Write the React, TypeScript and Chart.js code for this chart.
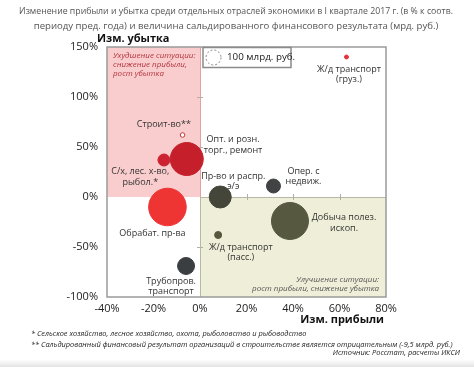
import React, { useEffect, useRef } from 'react';
import { Chart, registerables } from 'chart.js';

Chart.register(...registerables);

const sectors = [
  'Ж/д транспорт (груз.)',
  'Строит-во**',
  'Опт. и розн. торг., ремонт',
  'С/х, лес. х-во, рыбол.*',
  'Обрабат. пр-ва',
  'Трубопров. транспорт',
  'Пр-во и распр. э/э',
  'Ж/д транспорт (пасс.)',
  'Опер. с недвиж.',
  'Добыча полез. ископ.',
];
const profitChange = [63, -7.5, -5.7, -15.5, -14, -6, 8.7, 7.8, 31.6, 38.7];
const lossChange = [140, 62, 38, 37, -10, -69, 0, -38, 11, -24];
const balanceBn = [7, -9.5, 484, 64, 628, 128, 215, 22, 87, 608];
const xTicks = [-40, -20, 0, 20, 40, 60, 80];
const yTicks = [-100, -50, 0, 50, 100, 150];
const legendBn = 100;

const titleLines = [
  'Изменение прибыли и убытка среди отдельных отраслей экономики в I квартале 2017 г. (в % к соотв.',
  'периоду пред. года) и величина сальдированного финансового результата (мрд. руб.)',
];
const footLines = [
  '* Сельское хозяйство, лесное хозяйство, охота, рыболовство и рыбоводство',
  '** Сальдированный финансовый результат организаций в строительстве является отрицательным (-9,5 млрд. руб.)',
];
const sourceLine = 'Источник: Росстат, расчеты ИКСИ';

// styles / label layout (pixels)
const fills = ['#e2323c', '#ffffff', '#c41f2a', '#cc2232', '#ef3434', '#3b3e41', '#44463a', '#56583e', '#414345', '#56583f'];
const borders = ['#e2323c', '#c03a3a', '#c41f2a', '#cc2232', '#ef3434', '#3b3e41', '#44463a', '#56583e', '#414345', '#56583f'];
const labelLines = [
  ['Ж/д транспорт', '(груз.)'],
  ['Строит-во**'],
  ['Опт. и розн.', 'торг., ремонт'],
  ['С/х, лес. х-во,', 'рыбол.*'],
  ['Обрабат. пр-ва'],
  ['Трубопров.', 'транспорт'],
  ['Пр-во и распр.', 'э/э'],
  ['Ж/д транспорт', '(пасс.)'],
  ['Опер. с', 'недвиж.'],
  ['Добыча полез.', 'ископ.'],
];
const labelOffsets = [
  [2.5, 12.3], [-18.7, -11], [46.3, -19.3], [-23.7, 11.7], [-15, 26.6],
  [-15, 15], [13, -21], [22.7, 12.4], [30, -15], [54, -3.3],
];

const BASE_R = 7.5;
const radiusOf = (v: number) => BASE_R * Math.sqrt(Math.abs(v) / legendBn);
const FONT = '"Open Sans", "Noto Sans", sans-serif';

const overlay = {
  id: 'overlay',
  beforeDatasetsDraw(chart: any) {
    const { ctx, scales } = chart;
    const x = scales.x, y = scales.y;
    ctx.save();
    // pink region
    const px0 = x.getPixelForValue(-40), px1 = x.getPixelForValue(0);
    const py0 = y.getPixelForValue(150), py1 = y.getPixelForValue(0);
    ctx.fillStyle = '#f9cdcd';
    ctx.fillRect(px0, py0, px1 - px0, py1 - py0);
    ctx.strokeStyle = '#e6a0a0';
    ctx.lineWidth = 1;
    ctx.beginPath();
    ctx.moveTo(px1 + 0.5, py0);
    ctx.lineTo(px1 + 0.5, py1);
    ctx.stroke();
    // olive region
    const ox1 = x.getPixelForValue(80), oy1 = y.getPixelForValue(-100);
    ctx.fillStyle = '#efefd9';
    ctx.fillRect(px1, py1, ox1 - px1, oy1 - py1);
    ctx.strokeStyle = '#b8b8a8';
    ctx.beginPath();
    ctx.moveTo(px1, py1 + 0.5);
    ctx.lineTo(ox1, py1 + 0.5);
    ctx.moveTo(px1 + 0.5, py1);
    ctx.lineTo(px1 + 0.5, oy1);
    ctx.stroke();
    // small axis ticks at zero lines
    ctx.strokeStyle = '#b0b0a8';
    ctx.beginPath();
    xTicks.forEach((t) => {
      if (t === 0 || t === -40 || t === 80) return;
      const xx = Math.round(x.getPixelForValue(t)) + 0.5;
      ctx.moveTo(xx, py1 - 3);
      ctx.lineTo(xx, py1 + 3);
    });
    yTicks.forEach((t) => {
      if (t === 0 || t === 150 || t === -100) return;
      const yy = Math.round(y.getPixelForValue(t)) + 0.5;
      ctx.moveTo(px1 - 3, yy);
      ctx.lineTo(px1 + 3, yy);
    });
    ctx.stroke();
    // region captions
    ctx.font = `italic 8px ${FONT}`;
    ctx.fillStyle = '#b2343f';
    ctx.textAlign = 'left';
    ctx.textBaseline = 'middle';
    ['Ухудшение ситуации:', 'снижение прибыли,', 'рост убытка'].forEach((s, i) => {
      ctx.fillText(s, px0 + 6, py0 + 9 + i * 8.8);
    });
    ctx.fillStyle = '#555555';
    ctx.textAlign = 'right';
    ['Улучшение ситуации:', 'рост прибыли, снижение убытка'].forEach((s, i) => {
      ctx.fillText(s, ox1 - 7, oy1 - 17 + i * 9);
    });
    ctx.restore();
  },
  afterDatasetsDraw(chart: any) {
    const { ctx, chartArea: a } = chart;
    const meta = chart.getDatasetMeta(0);
    ctx.save();
    // plot border
    ctx.strokeStyle = '#9a9a9a';
    ctx.lineWidth = 1.5;
    ctx.strokeRect(a.left, a.top, a.right - a.left, a.bottom - a.top);
    // bubble labels
    ctx.font = `9px ${FONT}`;
    ctx.fillStyle = '#333333';
    ctx.textAlign = 'center';
    ctx.textBaseline = 'middle';
    meta.data.forEach((el: any, i: number) => {
      const [dx, dy] = labelOffsets[i];
      labelLines[i].forEach((s, j) => {
        ctx.fillText(s, el.x + dx, el.y + dy + j * 10.5);
      });
    });
    // legend box
    const lx = 203, ly = 47.5, lw = 88, lh = 20;
    ctx.fillStyle = '#ffffff';
    ctx.fillRect(lx, ly, lw, lh);
    ctx.strokeStyle = '#8a8a8a';
    ctx.lineWidth = 1.5;
    ctx.strokeRect(lx, ly, lw, lh);
    ctx.setLineDash([2, 2]);
    ctx.lineWidth = 1;
    ctx.strokeStyle = '#888888';
    ctx.beginPath();
    ctx.arc(lx + 10.5, ly + 10, radiusOf(legendBn), 0, Math.PI * 2);
    ctx.stroke();
    ctx.setLineDash([]);
    ctx.fillStyle = '#222222';
    ctx.textAlign = 'left';
    ctx.font = `9.8px ${FONT}`;
    ctx.fillText(`${legendBn} млрд. руб.`, lx + 24, ly + 10);
    ctx.restore();
  },
  afterDraw(chart: any) {
    const { ctx } = chart;
    ctx.save();
    ctx.textBaseline = 'middle';
    // title
    ctx.font = `9.6px ${FONT}`;
    ctx.fillStyle = '#555555';
    ctx.textAlign = 'center';
    titleLines.forEach((s, i) => ctx.fillText(s, 236, 11 + i * 15.5, 434));
    // axis titles
    ctx.font = `bold 11px ${FONT}`;
    ctx.fillStyle = '#111111';
    ctx.textAlign = 'left';
    ctx.fillText('Изм. убытка', 97, 38.5);
    ctx.textAlign = 'right';
    ctx.fillText('Изм. прибыли', 384, 320);
    // footnotes
    ctx.font = `italic 7.4px ${FONT}`;
    ctx.fillStyle = '#222222';
    ctx.textAlign = 'left';
    footLines.forEach((s, i) => ctx.fillText(s, 31, 334 + i * 10.5, 427));
    ctx.textAlign = 'right';
    ctx.fillText(sourceLine, 460, 353);
    // bottom band
    const g = ctx.createLinearGradient(0, 359, 0, 367);
    g.addColorStop(0, 'rgba(235,235,235,0)');
    g.addColorStop(1, 'rgba(225,225,225,1)');
    ctx.fillStyle = g;
    ctx.fillRect(0, 359, 474, 8);
    ctx.restore();
  },
};

export default function App() {
  const ref = useRef<HTMLCanvasElement | null>(null);
  useEffect(() => {
    document.body.style.margin = '0';
    const canvas = ref.current!;
    const chart = new Chart(canvas, {
      type: 'bubble',
      data: {
        datasets: [
          {
            label: 'Отрасли',
            data: sectors.map((_, i) => ({ x: profitChange[i], y: lossChange[i], r: radiusOf(balanceBn[i]) })),
            backgroundColor: fills,
            borderColor: borders,
            borderWidth: 1,
            hoverRadius: 0,
          },
        ],
      },
      options: {
        responsive: false,
        animation: false,
        devicePixelRatio: 1,
        layout: { padding: { left: 0, right: 88, top: 47, bottom: 46 } },
        plugins: { legend: { display: false }, tooltip: { enabled: false }, title: { display: false } },
        scales: {
          x: {
            type: 'linear',
            min: -40,
            max: 80,
            afterBuildTicks: (s: any) => { s.ticks = xTicks.map((v) => ({ value: v })); },
            afterFit: (s: any) => { s.height = 24; },
            grid: { display: false, drawTicks: false },
            border: { display: false },
            ticks: { color: '#222', font: { family: FONT, size: 11 }, padding: 5, callback: (v: any) => `${v}%` },
          },
          y: {
            type: 'linear',
            min: -100,
            max: 150,
            afterBuildTicks: (s: any) => { s.ticks = yTicks.map((v) => ({ value: v })); },
            afterFit: (s: any) => { s.width = 107; },
            grid: { display: false, drawTicks: false },
            border: { display: false },
            ticks: { color: '#222', font: { family: FONT, size: 11 }, padding: 9, callback: (v: any) => `${v}%` },
          },
        },
      },
      plugins: [overlay],
    });
    return () => chart.destroy();
  }, []);
  return (
    <div style={{ position: 'absolute', left: 0, top: 0, width: 474, height: 367, background: '#fff' }}>
      <canvas ref={ref} width={474} height={367} style={{ display: 'block' }} />
    </div>
  );
}
